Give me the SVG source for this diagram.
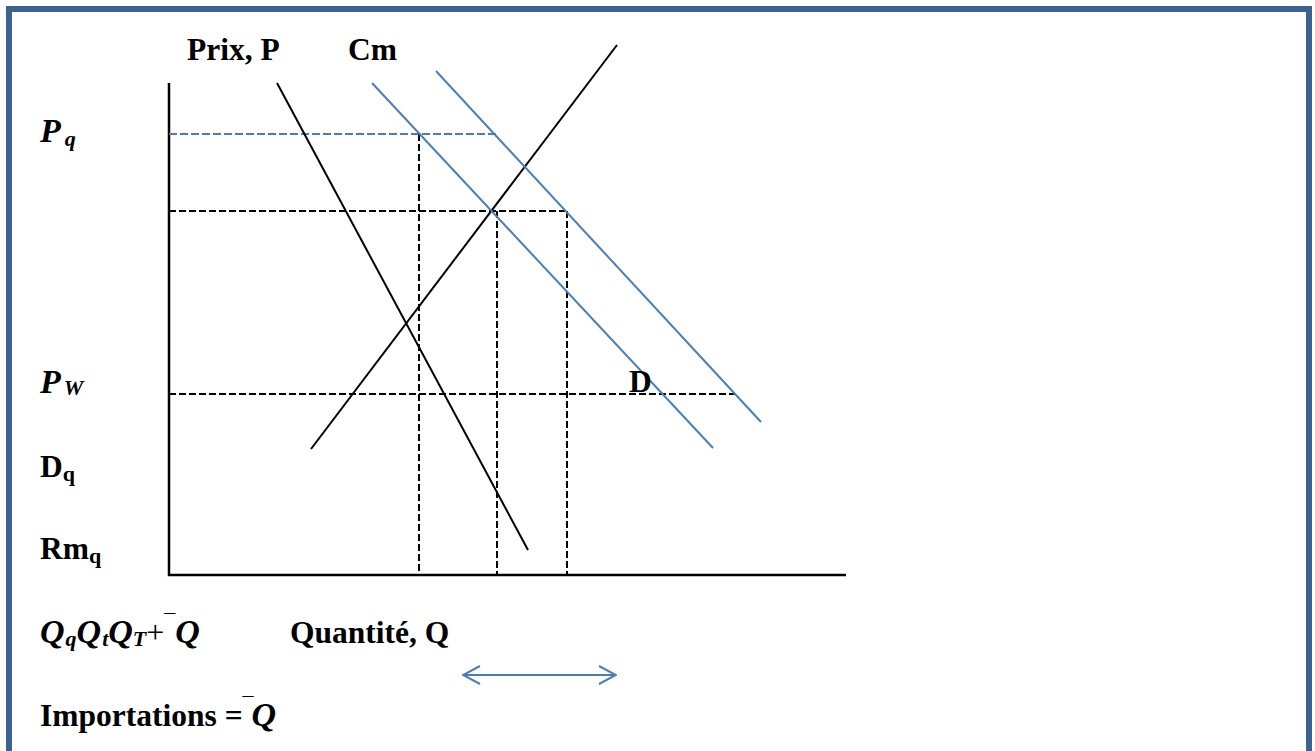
<svg xmlns="http://www.w3.org/2000/svg" width="1315" height="751" viewBox="0 0 1315 751">
<style>
  .lbl { font-family: "Liberation Serif", "Times New Roman", serif; font-weight: bold; font-size: 31.5px; fill: #000; }
  .math { font-family: "Liberation Serif", "Times New Roman", serif; font-weight: bold; font-style: italic; font-size: 34px; fill: #000; }
  .sub { font-size: 22px; }
  .axis { stroke: #000; stroke-width: 2.5; fill: none; }
  .curve { stroke: #000; stroke-width: 2; fill: none; }
  .blue { stroke: #4a7ebb; stroke-width: 2; fill: none; }
  .dash { stroke: #000; stroke-width: 2; stroke-dasharray: 7 3; fill: none; }
  .bdash { stroke: #4a7ebb; stroke-width: 2; stroke-dasharray: 8 3; fill: none; }
</style>
<defs>
  <marker id="chev" viewBox="0 0 20 22" refX="19" refY="11" markerWidth="20" markerHeight="22" markerUnits="userSpaceOnUse" orient="auto-start-reverse">
    <path d="M2,2 L19,11 L2,20" fill="none" stroke="#4a7ebb" stroke-width="2"/>
  </marker>
</defs>
<rect x="0" y="0" width="1315" height="751" fill="#fff"/>
<rect id="frame" x="9" y="9" width="1300" height="800" fill="none" stroke="#3d6190" stroke-width="6"/>

<g id="axes">
  <path class="axis" d="M169,83 L169,575 L846,575"/>
</g>

<g id="connectors">
  <line class="bdash" x1="169" y1="134" x2="497" y2="134"/>
  <line class="dash" x1="169" y1="211" x2="568" y2="211"/>
  <line class="dash" x1="169" y1="394" x2="735" y2="394"/>
  <line class="dash" x1="419" y1="134" x2="419" y2="575"/>
  <line class="dash" x1="497" y1="211" x2="497" y2="575"/>
  <line class="dash" x1="567" y1="211" x2="567" y2="575"/>
  <line id="demand-P" class="curve" x1="277" y1="83" x2="528" y2="550"/>
  <line id="supply-Cm" class="curve" x1="617" y1="45" x2="311" y2="449"/>
  <line id="blue-1" class="blue" x1="372" y1="83" x2="713" y2="448"/>
  <line id="blue-2" class="blue" x1="436" y1="71" x2="761" y2="422"/>
  <line id="imports-arrow" class="blue" x1="463" y1="675" x2="616" y2="675" marker-start="url(#chev)" marker-end="url(#chev)"/>
</g>

<g id="label-prix"><text class="lbl" x="187" y="60">Prix, P</text></g>
<g id="label-cm"><text class="lbl" x="348" y="60">Cm</text></g>
<g id="label-pq"><text class="math" x="40" y="142">P<tspan class="sub" dx="4" dy="4">q</tspan></text></g>
<g id="label-pw"><text class="math" x="40" y="393">P<tspan class="sub" dx="3" dy="2">W</tspan></text></g>
<g id="label-dq"><text class="lbl" x="40" y="477">D<tspan class="sub" dy="4">q</tspan></text></g>
<g id="label-rmq"><text class="lbl" x="40" y="559">Rm<tspan class="sub" dy="4">q</tspan></text></g>
<g id="label-d"><text class="lbl" x="629" y="392">D</text></g>
<g id="label-q-formula"><text class="math" x="40" y="643">Q<tspan class="sub" dx="1" dy="3">q</tspan><tspan dy="-3">Q</tspan><tspan class="sub" dx="1" dy="3">t</tspan><tspan dy="-3">Q</tspan><tspan class="sub" dy="3">T</tspan><tspan dy="-3" font-style="normal" font-weight="normal" font-size="32">+</tspan><tspan font-style="normal" font-weight="normal" dy="-14" font-size="22">¯</tspan><tspan dy="14">Q</tspan></text></g>
<g id="label-quantite"><text class="lbl" x="290" y="643">Quantité, Q</text></g>
<g id="label-importations"><text class="lbl" x="40" y="726">Importations =<tspan font-weight="normal" dy="-14" font-size="22">¯</tspan><tspan class="math" dx="-2" dy="14" font-size="32">Q</tspan></text></g>
</svg>
